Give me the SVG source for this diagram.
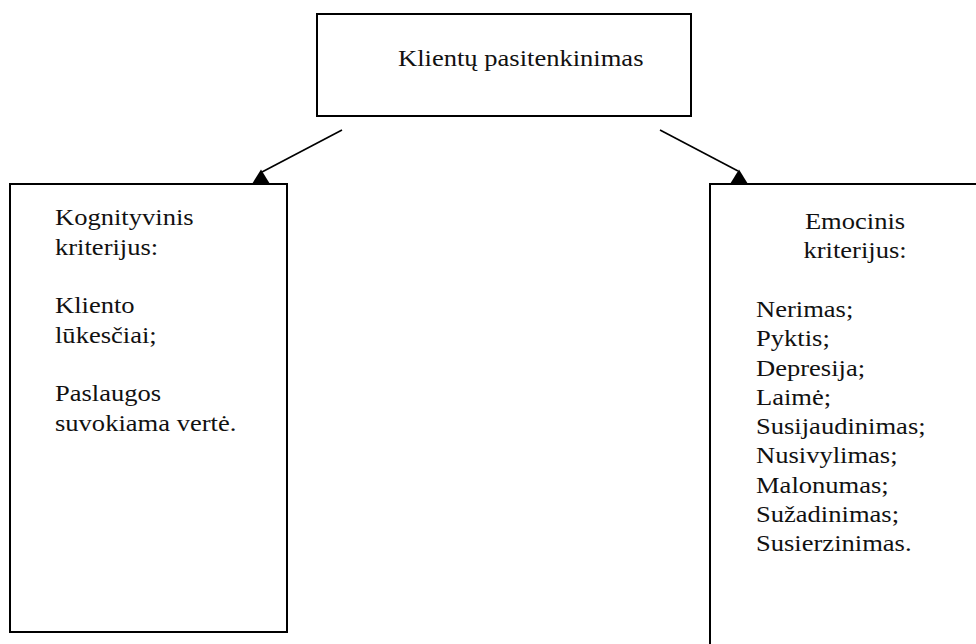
<svg xmlns="http://www.w3.org/2000/svg" width="976" height="644" viewBox="0 0 976 644">
<style>
.box{fill:#fff;stroke:#000;stroke-width:2}
.t{font-family:"Liberation Serif","Times New Roman",serif;font-size:23.5px;fill:#111}
.c{stroke:#000;stroke-width:1.6;fill:none}
.ah{fill:#000}
</style>
<rect width="976" height="644" fill="#fff"/>
<g id="connectors">
<line class="c" x1="342" y1="130" x2="262" y2="172"/>
<polygon class="ah" points="252,184 261,169.5 270,184"/>
<line class="c" x1="660" y1="130" x2="738" y2="171"/>
<polygon class="ah" points="730,184 739,169.5 748,184"/>
</g>
<g id="top">
<rect class="box" x="317" y="14" width="374" height="102"/>
<g transform="translate(398,66) scale(1.13,1)"><text class="t" x="0" y="0">Klientų pasitenkinimas</text></g>
</g>
<g id="left">
<rect class="box" x="10" y="184" width="277" height="448"/>
<g transform="translate(55,0) scale(1.13,1)">
<text class="t" x="0" y="225">Kognityvinis</text>
<text class="t" x="0" y="255">kriterijus:</text>
<text class="t" x="0" y="313.5">Kliento</text>
<text class="t" x="0" y="343">lūkesčiai;</text>
<text class="t" x="0" y="401">Paslaugos</text>
<text class="t" x="0" y="431.5">suvokiama vertė.</text>
</g>
</g>
<g id="right">
<rect class="box" x="710" y="184" width="300" height="500"/>
<g transform="translate(855,0) scale(1.13,1)">
<text class="t" x="0" y="229" text-anchor="middle">Emocinis</text>
<text class="t" x="0" y="258.5" text-anchor="middle">kriterijus:</text>
</g>
<g transform="translate(756,0) scale(1.13,1)">
<text class="t" x="0" y="317">Nerimas;</text>
<text class="t" x="0" y="346.3">Pyktis;</text>
<text class="t" x="0" y="375.6">Depresija;</text>
<text class="t" x="0" y="404.9">Laimė;</text>
<text class="t" x="0" y="434.2">Susijaudinimas;</text>
<text class="t" x="0" y="463.5">Nusivylimas;</text>
<text class="t" x="0" y="492.8">Malonumas;</text>
<text class="t" x="0" y="522.1">Sužadinimas;</text>
<text class="t" x="0" y="551.4">Susierzinimas.</text>
</g>
</g>
</svg>
